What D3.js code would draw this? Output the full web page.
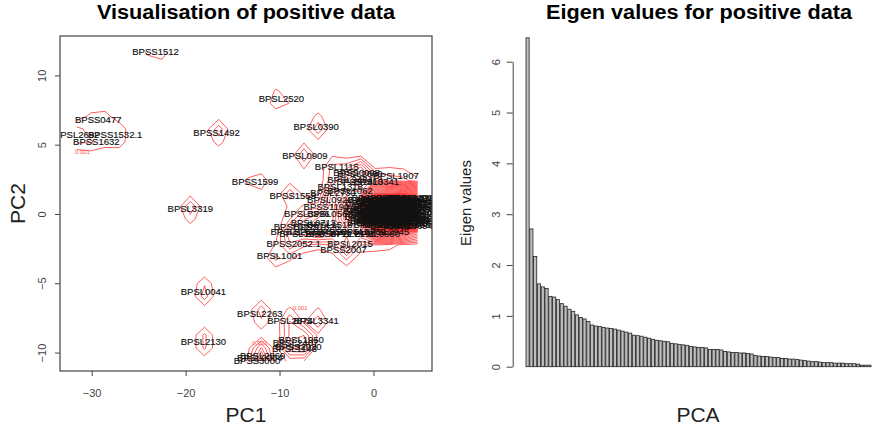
<!DOCTYPE html>
<html>
<head>
<meta charset="utf-8">
<script src="https://cdn.jsdelivr.net/npm/d3@7"></script>
<style>
  body { margin: 0; background: #fff; }
  svg { display: block; font-family: "Liberation Sans", Arial, sans-serif; }
</style>
</head>
<body>
<svg id="chart" width="874" height="429"></svg>
<script>
// labelled genes that can be told apart: [name, PC1, PC2]
const genes = [
  ["BPSS1512", -23.2, 11.7], ["BPSL2520", -9.8, 8.3], ["BPSS0477", -29.3, 6.8],
  ["BPSL2692", -31.6, 5.7], ["BPSS1532.1", -27.5, 5.7], ["BPSS1632", -29.5, 5.25],
  ["BPSS1492", -16.7, 5.9], ["BPSL0390", -6.1, 6.3], ["BPSL0909", -7.3, 4.2],
  ["BPSL1115", -3.9, 3.4], ["BPSS1599", -12.6, 2.3], ["BPSL3319", -19.5, 0.35],
  ["BPSS1559", -8.6, 1.35], ["BPSS0098", -1.8, 3.0], ["BPSL1907", 2.4, 2.75],
  ["BPSL0041", -18.1, -5.6], ["BPSL2263", -12.1, -7.2], ["BPSL2874", -8.9, -7.7],
  ["BPSL3341", -6.1, -7.7], ["BPSL2130", -18.1, -9.2], ["BPSL1950", -7.7, -9.1],
  ["BPSS2020", -8.0, -9.6], ["BPSL2407", -8.3, -9.3], ["BPSL1143", -8.4, -9.75],
  ["BPSL0004", -12.1, -10.4], ["BPSS3000", -12.4, -10.6], ["BPSL2869", -11.8, -10.2],
  ["BPSL1001", -10.0, -3.0], ["BPSS2052.1", -8.5, -2.15], ["BPSL2015", -2.5, -2.15],
  ["BPSS2007", -3.2, -2.6]
];

// genes around the main group, labels mostly overlapping
const crowd = [
  ["BPSL1318", -3.55, 1.95], ["BPSL2484", -2.5, 2.5], ["BPSL2730", -4.3, 1.5],
  ["BPSL1062", -2.5, 1.7], ["BPSL0920", -4.65, 1.0], ["BPSL3396", -7.1, 0.0],
  ["BPSL0562", -4.65, 0.05], ["BPSS1190", -5.0, 0.5], ["BPSL0713", -6.4, -0.65],
  ["BPSL1518", -4.65, -0.8], ["BPSL2287", -8.55, -1.3], ["BPSL0456", -6.06, -1.3],
  ["BPSS0644", -3.6, -1.3], ["BPSL1789", -1.1, -1.3], ["BPSL2945", 1.4, -1.3],
  ["BPSL0279", -8.2, -0.95], ["BPSS1826", -6.06, -0.95], ["BPSL1650", -7.6, -1.45],
  ["BPSS0711", -4.8, -1.45], ["BPSL2198", -2.2, -1.45], ["BPSL0880", 0.4, -1.45],
  ["BPSL2600", -1.45, 2.9], ["BPSL0341", 0.3, 2.3], ["BPSS1413", -1.45, 2.3],
  ["BPSL3290", 4.7, 1.2]
];

// dense core near the origin
const core = [
  ["BPSL0127", 0.1, 1.15], ["BPSL0538", 1.0, 1.12], ["BPSS0213", 2.1, 1.18], ["BPSL1422", 3.0, 1.1], ["BPSL2101", 3.9, 1.16], ["BPSS1760", 4.6, 1.13],
  ["BPSL0388", -0.6, 0.85], ["BPSL1270", 0.5, 0.88], ["BPSS0942", 1.4, 0.82], ["BPSL2333", 2.5, 0.86], ["BPSL0615", 3.4, 0.83], ["BPSS2116", 4.3, 0.87],
  ["BPSL1893", 0.0, 0.55], ["BPSL0764", 0.9, 0.52], ["BPSS1301", 1.9, 0.57], ["BPSL2556", 2.8, 0.54], ["BPSL0192", 3.7, 0.56], ["BPSS0530", 4.7, 0.53],
  ["BPSL1604", -0.8, 0.25], ["BPSL2218", 0.3, 0.27], ["BPSS1077", 1.2, 0.22], ["BPSL0846", 2.3, 0.26], ["BPSL3012", 3.2, 0.24], ["BPSS1935", 4.1, 0.28],
  ["BPSL0471", -0.3, -0.05], ["BPSL1355", 0.7, -0.03], ["BPSS0389", 1.6, -0.07], ["BPSL2679", 2.6, -0.04], ["BPSL0903", 3.5, -0.06], ["BPSS2241", 4.5, -0.02],
  ["BPSL1732", 0.2, -0.35], ["BPSL0298", 1.1, -0.33], ["BPSS1588", 2.0, -0.37], ["BPSL2462", 3.0, -0.34], ["BPSL1186", 3.8, -0.36], ["BPSS0817", 4.6, -0.32],
  ["BPSL0655", -0.4, -0.65], ["BPSL2049", 0.6, -0.63], ["BPSS1244", 1.5, -0.67], ["BPSL1471", 2.4, -0.64], ["BPSL0983", 3.3, -0.66], ["BPSS0166", 4.2, -0.62],
  ["BPSL0731", -0.3, 1.0], ["BPSL1548", 0.6, 0.98], ["BPSS0470", 1.6, 1.03], ["BPSL2290", 2.6, 0.97], ["BPSL0862", 3.5, 1.01], ["BPSS1915", 4.4, 0.99],
  ["BPSL1127", 0.2, 0.7], ["BPSL0214", 1.0, 0.72], ["BPSS1662", 2.0, 0.68], ["BPSL2943", 2.9, 0.71], ["BPSL1038", 3.9, 0.69], ["BPSS0254", 4.7, 0.73],
  ["BPSL0596", -0.5, 0.4], ["BPSL1819", 0.5, 0.38], ["BPSS0733", 1.5, 0.42], ["BPSL2412", 2.5, 0.39], ["BPSL0177", 3.4, 0.41], ["BPSS2088", 4.4, 0.37],
  ["BPSL1962", 0.0, 0.1], ["BPSL0423", 0.9, 0.12], ["BPSS1356", 1.9, 0.08], ["BPSL2705", 2.8, 0.11], ["BPSL0640", 3.8, 0.09], ["BPSS0991", 4.6, 0.13],
  ["BPSL1284", -0.7, -0.2], ["BPSL2177", 0.4, -0.18], ["BPSS0602", 1.3, -0.22], ["BPSL0958", 2.2, -0.19], ["BPSL1693", 3.1, -0.21], ["BPSS1471", 4.2, -0.17],
  ["BPSL0351", -0.1, -0.5], ["BPSL1446", 0.8, -0.48], ["BPSS0128", 1.8, -0.52], ["BPSL2603", 2.7, -0.49], ["BPSL0812", 3.6, -0.51], ["BPSS1699", 4.5, -0.47],
  ["BPSL1575", 0.3, -0.8], ["BPSL0239", 1.2, -0.78], ["BPSS1820", 2.1, -0.82], ["BPSL2366", 3.0, -0.79], ["BPSL0694", 3.9, -0.81], ["BPSS0347", 4.7, -0.77]
];

// contour level labels: [text, PC1, PC2]
const contourLabels = [["0.001", -31.0, 4.5], ["0.001", -7.8, -6.8], ["0.001", -12.1, -9.3]];

// eigen values, in decreasing order
const eigenValues = [
  6.47, 2.71, 2.17, 1.63, 1.57, 1.54, 1.38, 1.37, 1.32, 1.24, 1.19, 1.13, 1.09, 1.02, 0.97, 0.94,
  0.89, 0.82, 0.80, 0.79, 0.77, 0.76, 0.75, 0.74, 0.72, 0.70, 0.68, 0.66, 0.62, 0.61, 0.60, 0.58,
  0.56, 0.54, 0.52, 0.51, 0.50, 0.49, 0.46, 0.45, 0.44, 0.43, 0.42, 0.40, 0.39, 0.38, 0.38, 0.37,
  0.34, 0.34, 0.34, 0.33, 0.30, 0.29, 0.28, 0.28, 0.27, 0.27, 0.26, 0.25, 0.22, 0.21, 0.20, 0.20,
  0.19, 0.18, 0.18, 0.16, 0.16, 0.15, 0.15, 0.14, 0.13, 0.12, 0.11, 0.10, 0.10, 0.09, 0.08, 0.08,
  0.08, 0.07, 0.07, 0.07, 0.06, 0.06, 0.06, 0.05, 0.03, 0.03, 0.03
];

const pc1Ticks = [-30, -20, -10, 0];
const pc2Ticks = [-10, -5, 0, 5, 10];
const eigenTicks = [0, 1, 2, 3, 4, 5, 6];

const svg = d3.select("#chart");
const box = {left: 60, right: 432, top: 36, bottom: 371};
const axisColor = "#444";

// ---------- left: PCA scatter ----------
const x = d3.scaleLinear().domain([-33.37, 6.23]).range([box.left, box.right]);
const y = d3.scaleLinear().domain([-11.33, 12.84]).range([box.bottom, box.top]);

const defs = svg.append("defs");
defs.append("clipPath").attr("id", "plotclip")
  .append("rect")
  .attr("x", box.left).attr("y", box.top)
  .attr("width", box.right - box.left).attr("height", box.bottom - box.top);

const allPts = genes.concat(crowd, core);
const ext1 = d3.extent(allPts, d => d[1]);
const ext2 = d3.extent(allPts, d => d[2]);

defs.append("clipPath").attr("id", "gridclip")
  .append("rect")
  .attr("x", x(ext1[0])).attr("y", y(ext2[1]))
  .attr("width", x(ext1[1]) - x(ext1[0]))
  .attr("height", y(ext2[0]) - y(ext2[1]));

// coarse 2d kernel density, like kde2d with n = 25
const N = 25, sx = 0.62, sy = 0.6;
const stepX = (ext1[1] - ext1[0]) / (N - 1);
const stepY = (ext2[1] - ext2[0]) / (N - 1);
const dens = new Array(N * N).fill(0);
for (let j = 0; j < N; j++) {
  for (let i = 0; i < N; i++) {
    const gx = ext1[0] + i * stepX, gy = ext2[1] - j * stepY;
    let s = 0;
    allPts.forEach(p => {
      const u = (gx - p[1]) / sx, v = (gy - p[2]) / sy;
      s += Math.exp(-0.5 * (u * u + v * v));
    });
    dens[j * N + i] = s / (allPts.length * 2 * Math.PI * sx * sy);
  }
}
const levels = d3.range(0.001, d3.max(dens), 0.001);
const contours = d3.contours().size([N, N]).thresholds(levels)(dens);
const proj = d3.geoTransform({
  point(px, py) {
    this.stream.point(x(ext1[0] + (px - 0.5) * stepX), y(ext2[1] - (py - 0.5) * stepY));
  }
});

const plot = svg.append("g").attr("clip-path", "url(#plotclip)");

plot.append("g")
  .attr("clip-path", "url(#gridclip)")
  .attr("fill", "none")
  .attr("stroke", "#ff0000")
  .attr("stroke-opacity", 0.8)
  .attr("stroke-width", 0.8)
  .selectAll("path")
  .data(contours)
  .join("path")
  .attr("d", d3.geoPath(proj));

plot.append("g")
  .attr("fill", "#ff5050")
  .attr("font-size", 6)
  .attr("text-anchor", "middle")
  .selectAll("text")
  .data(contourLabels)
  .join("text")
  .attr("x", d => x(d[1]))
  .attr("y", d => y(d[2]))
  .attr("dy", "0.35em")
  .text(d => d[0]);

plot.append("g")
  .attr("fill", "#111")
  .attr("stroke", "#111")
  .attr("stroke-width", 0.15)
  .attr("font-size", 9.5)
  .attr("text-anchor", "middle")
  .selectAll("text")
  .data(allPts)
  .join("text")
  .attr("x", d => x(d[1]))
  .attr("y", d => y(d[2]))
  .attr("dy", "0.35em")
  .text(d => d[0]);

svg.append("rect")
  .attr("x", box.left).attr("y", box.top)
  .attr("width", box.right - box.left).attr("height", box.bottom - box.top)
  .attr("fill", "none").attr("stroke", axisColor).attr("stroke-width", 1.2);

const xAxis = svg.append("g")
  .attr("transform", `translate(0,${box.bottom})`)
  .call(d3.axisBottom(x).tickValues(pc1Ticks).tickSize(5).tickPadding(13).tickSizeOuter(0));
xAxis.select(".domain").remove();

const yAxis = svg.append("g")
  .attr("transform", `translate(${box.left},0)`)
  .call(d3.axisLeft(y).tickValues(pc2Ticks).tickSize(5).tickSizeOuter(0));
yAxis.select(".domain").remove();
yAxis.selectAll("text")
  .attr("x", null).attr("dy", null)
  .attr("text-anchor", "middle")
  .attr("transform", "translate(-14.5,0) rotate(-90)");

[xAxis, yAxis].forEach(a => {
  a.attr("font-family", null).attr("font-size", 11);
  a.selectAll("line").attr("stroke", axisColor);
  a.selectAll("text").attr("fill", axisColor);
});

svg.append("text")
  .attr("x", (box.left + box.right) / 2).attr("y", 19)
  .attr("text-anchor", "middle").attr("font-weight", "bold").attr("font-size", 20)
  .attr("textLength", 298).attr("lengthAdjust", "spacingAndGlyphs")
  .text("Visualisation of positive data");

svg.append("text")
  .attr("x", (box.left + box.right) / 2).attr("y", 421.5)
  .attr("text-anchor", "middle").attr("font-size", 21).attr("fill", "#222")
  .text("PC1");

svg.append("text")
  .attr("transform", `translate(25,${(box.top + box.bottom) / 2}) rotate(-90)`)
  .attr("text-anchor", "middle").attr("font-size", 21).attr("fill", "#222")
  .text("PC2");

// ---------- right: eigen value bars ----------
const bx = d3.scaleBand()
  .domain(d3.range(eigenValues.length))
  .range([526, 871])
  .paddingInner(0.17);
const by = d3.scaleLinear().domain([0, 6]).range([366.7, 61.7]);

svg.append("g")
  .selectAll("rect")
  .data(eigenValues)
  .join("rect")
  .attr("x", (d, i) => bx(i))
  .attr("y", d => by(d))
  .attr("width", bx.bandwidth())
  .attr("height", d => by(0) - by(d))
  .attr("fill", "#bebebe")
  .attr("stroke", "#222")
  .attr("stroke-width", 0.8);

const eAxis = svg.append("g")
  .attr("transform", "translate(512.7,0)")
  .call(d3.axisLeft(by).tickValues(eigenTicks).tickFormat(d3.format("d")).tickSize(6).tickSizeOuter(0));
eAxis.attr("font-family", null).attr("font-size", 11);
eAxis.select(".domain").attr("stroke", axisColor);
eAxis.selectAll("line").attr("stroke", axisColor);
eAxis.selectAll("text")
  .attr("fill", axisColor)
  .attr("x", null).attr("dy", null)
  .attr("text-anchor", "middle")
  .attr("transform", "translate(-12.7,0) rotate(-90)");

svg.append("text")
  .attr("x", 699).attr("y", 19)
  .attr("text-anchor", "middle").attr("font-weight", "bold").attr("font-size", 20)
  .attr("textLength", 306).attr("lengthAdjust", "spacingAndGlyphs")
  .text("Eigen values for positive data");

svg.append("text")
  .attr("x", 698).attr("y", 421.5)
  .attr("text-anchor", "middle").attr("font-size", 21).attr("fill", "#222")
  .text("PCA");

svg.append("text")
  .attr("transform", "translate(471,203) rotate(-90)")
  .attr("text-anchor", "middle").attr("font-size", 15).attr("fill", "#222")
  .text("Eigen values");
</script>
</body>
</html>
